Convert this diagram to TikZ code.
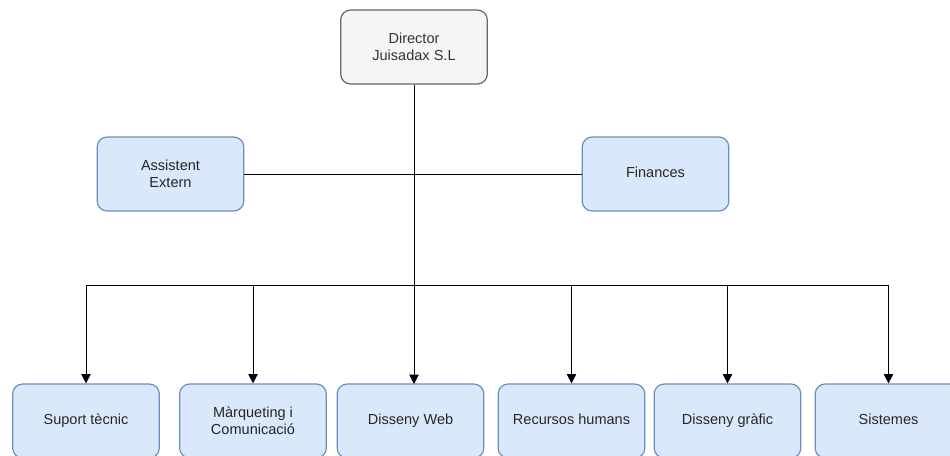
\documentclass[tikz,border=0pt]{standalone}
\usepackage{fontspec}
\setmainfont{Liberation Sans}
\usetikzlibrary{arrows.meta}
\definecolor{bluefill}{HTML}{DAE8FC}
\definecolor{bluedraw}{HTML}{6C8EBF}
\definecolor{greyfill}{HTML}{F5F5F5}
\definecolor{greydraw}{HTML}{666666}
\definecolor{greytext}{HTML}{333333}
\tikzset{
  unit/.style={draw=bluedraw, fill=bluefill, rounded corners=7.5pt, minimum width=110pt, minimum height=55.5pt, align=center, font=\fontsize{10.9}{12.6}\selectfont, text=black!85, line width=0.9pt},
  oneunit/.style={unit, text height=0.75em, text depth=0.22em},
  boss/.style={unit, draw=greydraw, fill=greyfill, text=greytext},
  link/.style={line width=0.75pt},
  arr/.style={link, -{Triangle[length=7pt, width=7pt]}}
}
\begin{document}
\begin{tikzpicture}[x=0.75pt, y=-0.75pt]
			\useasboundingbox (0,0) rectangle (950,455);
			\begin{scope}
			\clip (0,0) rectangle (950,455);
			\node[boss] at (414,47) (dir) {Director\\Juisadax S.L};
			\node[unit] at (170.5,174) (assist) {Assistent\\Extern};
			\node[oneunit] at (655.5,174) (fin) {Finances};

			\node[oneunit] at (86,421) (sup) {Suport tècnic};
			\node[unit] at (253,421) (marq) {Màrqueting i\\Comunicació};
			\node[oneunit] at (410.5,421) (web) {Disseny Web};
			\node[oneunit] at (571.5,421) (rrhh) {Recursos humans};
			\node[oneunit] at (727.5,421) (graf) {Disseny gràfic};
			\node[oneunit] at (888.5,421) (sis) {Sistemes};

			\coordinate (fork) at (414,285);
			\draw[link] (dir.south)--(fork);
			\draw[link] (assist.east)--(fin.west);

			\draw[arr] (fork)-|(sup.north);
			\draw[arr] (fork)-|(marq.north);
			\draw[arr] (fork)--(414,384);
			\draw[arr] (fork)-|(rrhh.north);
			\draw[arr] (fork)-|(graf.north);
			\draw[arr] (fork)-|(sis.north);
			\end{scope}
		\end{tikzpicture}
\end{document}
